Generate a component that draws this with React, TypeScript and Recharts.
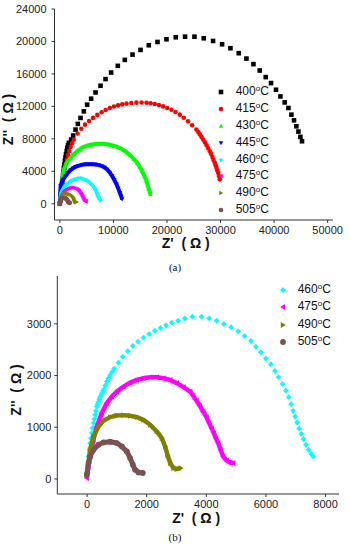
import { Label, Legend, Scatter, ScatterChart, XAxis, YAxis } from 'recharts'

const FONT = '"Liberation Sans", Arial, sans-serif'
const AXIS = '#333'

type Pt = [number, number]
type Shape = 'square' | 'circle' | 'up' | 'down' | 'diamond' | 'left' | 'right'

// Z' (ohm), Z'' (ohm)
const T400: Pt[] = [
  [0, 0], [80, 400], [150, 800], [220, 1250], [300, 1700], [380, 2150], [450, 2600], [520, 3050],
  [600, 3500], [680, 3950], [750, 4400], [850, 4850], [950, 5300], [1050, 5700], [1150, 6100],
  [1270, 6500], [1400, 6900], [1540, 7200], [1679, 7509], [2109, 7914], [2482, 8405], [2930, 9141],
  [3359, 9841], [3863, 10577], [4478, 11387], [5094, 12209], [5841, 12945], [6662, 13718], [7595, 14540],
  [8528, 15362], [9573, 16172], [10823, 16994], [12129, 17730], [13566, 18380], [15059, 18957],
  [16607, 19534], [18231, 19939], [19910, 20270], [21645, 20515], [23381, 20589], [25135, 20589],
  [26870, 20393], [28606, 20062], [30285, 19657], [31853, 19166], [33401, 18553], [34838, 17890],
  [36145, 17203], [37320, 16418], [38440, 15608], [39428, 14871], [40361, 14049], [41182, 13227],
  [41984, 12491], [42675, 11804], [43234, 10982], [43720, 10282], [44167, 9546], [44541, 8896],
  [44914, 8245], [45213, 7706],
]
const T415: Pt[] = [
  [0, 200], [100, 750], [200, 1300], [320, 1900], [450, 2500], [600, 3100], [750, 3700], [920, 4300],
  [1100, 4900], [1300, 5450], [1500, 6000], [1750, 6500], [2000, 7000], [2300, 7450], [2600, 7900],
  [3300, 8650], [4000, 9250], [4700, 9750], [5450, 10200], [6200, 10580], [7000, 10950], [7800, 11270],
  [8550, 11550], [9330, 11800], [10100, 11990], [10880, 12130], [11650, 12250], [12450, 12340],
  [13350, 12420], [14300, 12460], [15250, 12470], [16180, 12450], [16950, 12390], [17730, 12300],
  [18500, 12170], [19280, 12000], [20050, 11810], [20840, 11590], [21600, 11310], [22390, 10980],
  [23150, 10600], [23940, 10160], [24700, 9680], [25500, 9140], [25850, 8850], [26150, 8550],
  [26450, 8240], [26750, 7910], [27100, 7560], [27400, 7200], [27700, 6840], [28000, 6480],
  [28250, 6120], [28500, 5750], [28700, 5400], [28920, 5050], [29100, 4750], [29250, 4430],
  [29400, 4130], [29550, 3830], [29700, 3420], [29860, 3010],
]
const T430: Pt[] = [
  [0, 0], [200, 1800], [400, 3000], [746, 4233], [1300, 5100], [1990, 5669], [2600, 6100], [3234, 6479],
  [3850, 6780], [4478, 7018], [5100, 7170], [5722, 7264], [6350, 7340], [6966, 7386], [7600, 7400],
  [8210, 7386], [8850, 7340], [9454, 7264], [10080, 7150], [10698, 7018], [11320, 6830], [11942, 6601],
  [12560, 6300], [13186, 5951], [13800, 5530], [14430, 5055], [14900, 4560], [15357, 4025], [15800, 3400],
  [16178, 2798], [16400, 2280], [16607, 1779], [16800, 1450], [16925, 1166],
]
const T445: Pt[] = [
  [0, 0], [131, 2184], [500, 2900], [1064, 3411], [1500, 3820], [1997, 4147], [2450, 4380], [2930, 4564],
  [3550, 4700], [4161, 4810], [4800, 4870], [5411, 4883], [6030, 4880], [6662, 4847], [7280, 4760],
  [7893, 4638], [8360, 4460], [8826, 4233], [9300, 3860], [9759, 3411], [10180, 2920], [10580, 2393],
  [10900, 1880], [11196, 1374], [11420, 960], [11625, 552],
]
const T460: Pt[] = [
  [-10, 83], [15, 260], [47, 436], [75, 570], [101, 695], [130, 790], [158, 888], [185, 985], [215, 1081],
  [245, 1160], [270, 1240], [300, 1320], [326, 1401], [353, 1445], [380, 1490], [408, 1537], [436, 1583],
  [468, 1620], [500, 1660], [535, 1700], [571, 1737], [615, 1810], [661, 1884], [715, 1946], [772, 2007],
  [838, 2070], [906, 2135], [1054, 2250], [1198, 2366], [1366, 2470], [1534, 2573], [1712, 2656],
  [1893, 2733], [2081, 2804], [2272, 2868], [2463, 2920], [2652, 2972], [2843, 3023], [3055, 3061],
  [3279, 3107], [3530, 3138], [3839, 3138], [4094, 3107], [4343, 3061], [4588, 2997], [4833, 2934],
  [5068, 2856], [5282, 2766], [5494, 2669], [5662, 2559], [5829, 2451], [5997, 2328], [6165, 2220],
  [6299, 2090], [6423, 1969], [6557, 1839], [6668, 1710], [6769, 1583], [6846, 1447], [6913, 1318],
  [6981, 1208], [7048, 1092], [7115, 977], [7182, 874], [7263, 772], [7340, 662], [7430, 565],
  [7517, 488], [7585, 436],
]
const T475: Pt[] = [
  [-10, 19], [101, 436], [213, 758], [326, 1015], [493, 1274], [661, 1467], [829, 1594], [997, 1691],
  [1220, 1787], [1444, 1864], [1668, 1916], [1891, 1949], [2115, 1969], [2339, 1969], [2563, 1949],
  [2787, 1916], [3010, 1853], [3234, 1776], [3458, 1691], [3558, 1608], [3670, 1517], [3782, 1415],
  [3894, 1305], [4006, 1197], [4094, 1081], [4174, 984], [4252, 888], [4319, 791], [4396, 695],
  [4477, 565], [4564, 436], [4678, 359], [4789, 320], [4900, 309],
]
const T490: Pt[] = [
  [-10, 83], [101, 565], [213, 822], [381, 1015], [549, 1125], [773, 1197], [997, 1228], [1220, 1235],
  [1444, 1222], [1668, 1197], [1891, 1144], [2115, 1048], [2339, 919], [2507, 791], [2618, 629],
  [2697, 469], [2787, 309], [2898, 212], [3010, 193], [3145, 212],
]
const T505: Pt[] = [
  [-10, 83], [47, 309], [101, 436], [213, 565], [381, 662], [549, 707], [773, 720], [997, 695],
  [1165, 629], [1333, 533], [1444, 405], [1534, 276], [1611, 179], [1724, 128], [1869, 116],
]

const ALL = [
  { temp: '400', data: T400, color: '#000000', shape: 'square' as Shape },
  { temp: '415', data: T415, color: '#ff0000', shape: 'circle' as Shape },
  { temp: '430', data: T430, color: '#00ff00', shape: 'up' as Shape },
  { temp: '445', data: T445, color: '#0000ff', shape: 'down' as Shape },
  { temp: '460', data: T460, color: '#00ffff', shape: 'diamond' as Shape },
  { temp: '475', data: T475, color: '#ff00ff', shape: 'left' as Shape },
  { temp: '490', data: T490, color: '#808000', shape: 'right' as Shape },
  { temp: '505', data: T505, color: '#7b5252', shape: 'circle' as Shape },
]

function Marker({ shape, cx, cy, s, color }: { shape: Shape; cx: number; cy: number; s: number; color: string }) {
  const h = s / 2
  if (shape === 'square') return <rect x={cx - h} y={cy - h} width={s} height={s} fill={color} />
  if (shape === 'circle') return <circle cx={cx} cy={cy} r={h} fill={color} />
  let pts: number[][] = []
  if (shape === 'up') pts = [[cx, cy - h], [cx + h, cy + h * 0.75], [cx - h, cy + h * 0.75]]
  if (shape === 'down') pts = [[cx, cy + h], [cx + h, cy - h * 0.75], [cx - h, cy - h * 0.75]]
  if (shape === 'left') pts = [[cx - h, cy], [cx + h * 0.75, cy - h], [cx + h * 0.75, cy + h]]
  if (shape === 'right') pts = [[cx + h, cy], [cx - h * 0.75, cy - h], [cx - h * 0.75, cy + h]]
  if (shape === 'diamond') pts = [[cx, cy - h], [cx + h, cy], [cx, cy + h], [cx - h, cy]]
  return <polygon points={pts.map((p) => p.join(',')).join(' ')} fill={color} />
}

type Cfg = {
  temps: string[]
  height: number
  margin: { top: number; right: number; bottom: number; left: number }
  yWidth: number
  xDomain: [number, number]
  xTicks: number[]
  yDomain: [number, number]
  yTicks: number[]
  size: number
  lines: Record<string, number>
  yTickMargin: number
  xTitleDx: number
  xTitleOffset: number
  yTitleOffset: number
  yTitleDy: number
  legend: { left: number; top: number; rowH: number }
}

function LegendBox({ items, rowH, size }: { items: typeof ALL; rowH: number; size: number }) {
  return (
    <div style={{ fontFamily: FONT, fontSize: 12, color: '#111' }}>
      {items.map((s) => (
        <div key={s.temp} style={{ display: 'flex', alignItems: 'center', height: rowH }}>
          <svg width={10} height={10}>
            <Marker shape={s.shape} cx={5} cy={5} s={size} color={s.color} />
          </svg>
          <span style={{ marginLeft: 10, lineHeight: '12px' }}>
            {s.temp}
            <span style={{ fontSize: 8, position: 'relative', top: -4 }}>o</span>C
          </span>
        </div>
      ))}
    </div>
  )
}

function Nyquist({ c }: { c: Cfg }) {
  const series = ALL.filter((s) => c.temps.includes(s.temp))
  const tick = { fontFamily: FONT, fontSize: 11, fill: '#222' }
  const title = { fontFamily: FONT, fontSize: 14, fontWeight: 'bold', fill: '#111' }
  return (
    <ScatterChart width={350} height={c.height} margin={c.margin}>
      <XAxis
        type="number"
        dataKey="x"
        domain={c.xDomain}
        ticks={c.xTicks}
        allowDataOverflow
        height={32}
        tickSize={3}
        tickMargin={3}
        tick={tick}
        stroke={AXIS}
      >
        <Label value={"Z'\u00a0 ( Ω )"} position="insideBottom" offset={c.xTitleOffset} dx={c.xTitleDx} style={title} />
      </XAxis>
      <YAxis
        type="number"
        dataKey="y"
        domain={c.yDomain}
        ticks={c.yTicks}
        allowDataOverflow
        width={c.yWidth}
        tickSize={3}
        tickMargin={c.yTickMargin}
        tick={tick}
        stroke={AXIS}
      >
        <Label
          value={"Z''\u00a0 ( Ω )"}
          angle={-90}
          position="insideLeft"
          offset={c.yTitleOffset}
          dy={c.yTitleDy}
          style={{ ...title, textAnchor: 'middle' }}
        />
      </YAxis>
      <XAxis xAxisId="top" orientation="top" type="number" domain={c.xDomain} height={0} tick={false} tickLine={false} stroke={AXIS} />
      <YAxis yAxisId="right" orientation="right" type="number" domain={c.yDomain} width={0} tick={false} tickLine={false} stroke={AXIS} />
      <Legend
        layout="vertical"
        align="center"
        verticalAlign="middle"
        wrapperStyle={{ left: c.legend.left, top: c.legend.top }}
        content={() => <LegendBox items={series} rowH={c.legend.rowH} size={c.size} />}
      />
      {series.map((s) => (
        <Scatter
          key={s.temp}
          name={s.temp}
          data={s.data.map(([x, y]) => ({ x, y }))}
          fill={s.color}
          isAnimationActive={false}
          line={c.lines[s.temp] ? { stroke: s.color, strokeWidth: c.lines[s.temp], strokeLinejoin: 'round' } : false}
          shape={(p: any) => <Marker shape={s.shape} cx={p.cx} cy={p.cy} s={c.size} color={s.color} />}
        />
      ))}
    </ScatterChart>
  )
}

const CFG_A: Cfg = {
  temps: ['400', '415', '430', '445', '460', '475', '490', '505'],
  height: 252,
  margin: { top: 9, right: 17, bottom: 0, left: 0 },
  yWidth: 54.5,
  xDomain: [-1000, 51000],
  xTicks: [0, 10000, 20000, 30000, 40000, 50000],
  yDomain: [-2000, 24000],
  yTicks: [0, 4000, 8000, 12000, 16000, 20000, 24000],
  size: 4.6,
  lines: { '430': 4, '445': 4 },
  yTickMargin: 5,
  xTitleDx: -8,
  xTitleOffset: 4,
  yTitleOffset: 8,
  yTitleDy: 5,
  legend: { left: 215.7, top: 83.5, rowH: 16.9 },
}

const CFG_B: Cfg = {
  temps: ['460', '475', '490', '505'],
  height: 256,
  margin: { top: 6, right: 11, bottom: 0, left: 0 },
  yWidth: 57.3,
  xDomain: [-1000, 8450],
  xTicks: [0, 2000, 4000, 6000, 8000],
  yDomain: [-290, 3925],
  yTicks: [0, 1000, 2000, 3000],
  size: 5.8,
  lines: { '475': 4.5, '490': 4.5, '505': 5 },
  yTickMargin: 3,
  xTitleDx: -2,
  xTitleOffset: 3,
  yTitleOffset: 16.5,
  yTitleDy: 5,
  legend: { left: 277.7, top: 11.2, rowH: 17.5 },
}

const caption = (top: number) => ({
  position: 'absolute' as const,
  left: 0,
  top,
  width: 350,
  textAlign: 'center' as const,
  fontFamily: '"Liberation Serif", serif',
  fontSize: 11,
  lineHeight: '12px',
  color: '#111',
})

export default function App() {
  return (
    <div style={{ position: 'absolute', left: 0, top: 0, width: 350, height: 550, background: '#fff' }}>
      <div style={{ position: 'absolute', left: 0, top: 0 }}>
        <Nyquist c={CFG_A} />
      </div>
      <div style={caption(261)}>(a)</div>
      <div style={{ position: 'absolute', left: 0, top: 270 }}>
        <Nyquist c={CFG_B} />
      </div>
      <div style={caption(531)}>(b)</div>
    </div>
  )
}
